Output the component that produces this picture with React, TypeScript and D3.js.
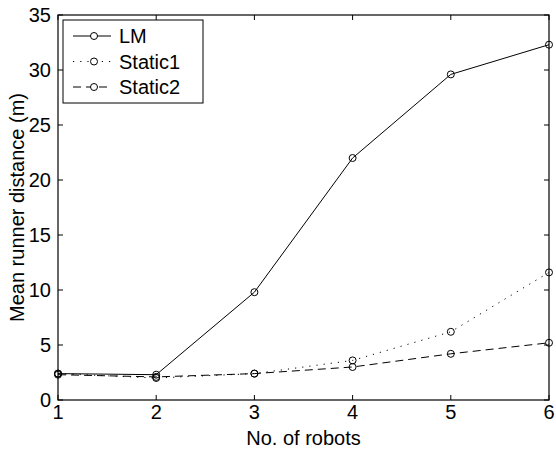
import React from 'react';
import * as d3 from 'd3';

const robots = [1, 2, 3, 4, 5, 6];
const lmValues = [2.4, 2.3, 9.8, 22.0, 29.6, 32.3];
const static1Values = [2.4, 2.0, 2.4, 3.6, 6.2, 11.6];
const static2Values = [2.3, 2.1, 2.4, 3.0, 4.2, 5.2];
const yTicks = [0, 5, 10, 15, 20, 25, 30, 35];
const seriesNames = ['LM', 'Static1', 'Static2'];

const width = 556;
const height = 455;
const left = 58, right = 549, top = 15, bottom = 400;
const font = '"Liberation Sans", Arial, sans-serif';

const dashes = [null, '1.2,6', '8,5'];

export default function App() {
  const x = d3.scaleLinear().domain([1, 6]).range([left, right]);
  const y = d3.scaleLinear().domain([0, 35]).range([bottom, top]);

  const series = [lmValues, static1Values, static2Values].map((vals, i) => ({
    name: seriesNames[i],
    dash: dashes[i],
    points: vals.map((v, j) => ({ r: robots[j], v })),
  }));

  const line = d3
    .line<{ r: number; v: number }>()
    .x(d => x(d.r))
    .y(d => y(d.v));

  const tick = 5;

  return (
    <svg
      width={width}
      height={height}
      style={{ position: 'absolute', left: 0, top: 0, background: '#fff' }}
      fontFamily={font}
    >
      <rect x={0} y={0} width={width} height={height} fill="#fff" />
      {/* axis box */}
      <rect x={left} y={top} width={right - left} height={bottom - top} fill="none" stroke="#000" strokeWidth={1.2} />

      {/* x ticks */}
      {robots.map(r => (
        <g key={'x' + r}>
          <line x1={x(r)} x2={x(r)} y1={bottom} y2={bottom - tick} stroke="#000" />
          <line x1={x(r)} x2={x(r)} y1={top} y2={top + tick} stroke="#000" />
          <text x={x(r)} y={419} fontSize={20} textAnchor="middle">{r}</text>
        </g>
      ))}

      {/* y ticks */}
      {yTicks.map(t => (
        <g key={'y' + t}>
          <line x1={left} x2={left + tick} y1={y(t)} y2={y(t)} stroke="#000" />
          <line x1={right} x2={right - tick} y1={y(t)} y2={y(t)} stroke="#000" />
          <text x={51} y={y(t) + 7} fontSize={20} textAnchor="end">{t}</text>
        </g>
      ))}

      {/* series */}
      {series.map(s => (
        <g key={s.name}>
          <path d={line(s.points) || ''} fill="none" stroke="#000" strokeWidth={1} strokeDasharray={s.dash || undefined} />
          {s.points.map(p => (
            <circle key={p.r} cx={x(p.r)} cy={y(p.v)} r={3.5} fill="none" stroke="#000" strokeWidth={1} />
          ))}
        </g>
      ))}

      {/* labels */}
      <text x={(left + right) / 2} y={445} fontSize={20} textAnchor="middle">No. of robots</text>
      <text
        transform={`translate(24, ${(top + bottom) / 2}) rotate(-90)`}
        fontSize={20}
        textAnchor="middle"
      >
        Mean runner distance (m)
      </text>

      {/* legend */}
      <g>
        <rect x={63} y={20} width={140} height={83} fill="#fff" stroke="#000" strokeWidth={1} />
        {series.map((s, i) => {
          const ly = 36 + i * 25.5;
          return (
            <g key={'lg' + s.name}>
              <line x1={73} x2={111} y1={ly} y2={ly} stroke="#000" strokeDasharray={s.dash || undefined} />
              <circle cx={94} cy={ly} r={3.5} fill="#fff" stroke="#000" />
              <text x={119} y={ly + 7} fontSize={20}>{s.name}</text>
            </g>
          );
        })}
      </g>
    </svg>
  );
}
